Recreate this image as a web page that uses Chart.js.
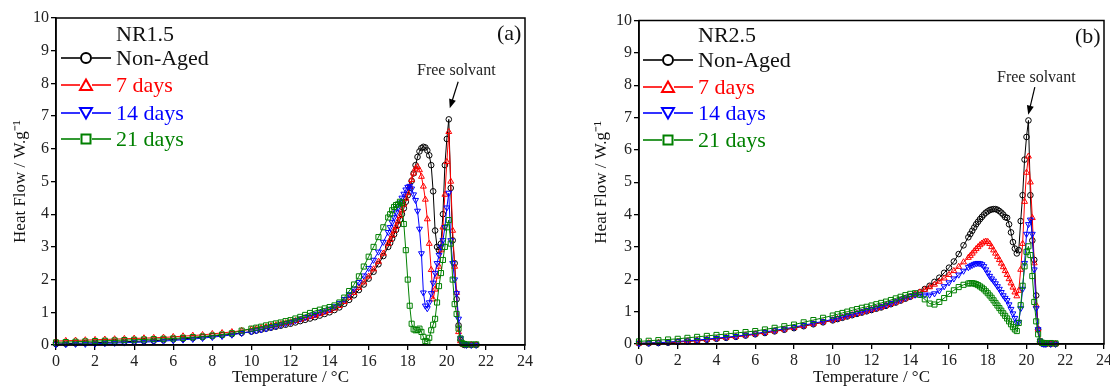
<!DOCTYPE html>
<html>
<head>
<meta charset="utf-8">
<script src="https://cdn.jsdelivr.net/npm/chart.js@4/dist/chart.umd.min.js"></script>
<style>
  body { margin: 0; background: #fff; width: 1110px; height: 388px; position: relative; overflow: hidden; font-family: "Liberation Serif", serif; }
  .panel { position: absolute; top: 0; height: 388px; }
  .lbl { position: absolute; white-space: nowrap; }
</style>
</head>
<body>
<div class="panel" style="left:0;width:555px"><canvas id="chartA" width="555" height="388"></canvas></div>
<div class="panel" style="left:560px;width:550px"><canvas id="chartB" width="550" height="388"></canvas></div>
<script>
// temperature grid (°C), shared by both panels
const temps = [0,0.5,1,1.5,2,2.5,3,3.5,4,4.5,5,5.5,6,6.5,7,7.5,8,8.5,9,9.5,10,
  10.25,10.5,10.75,11,11.25,11.5,11.75,12,12.25,12.5,12.75,13,13.25,13.5,13.75,14,14.25,14.5,14.75,15,15.25,15.5,15.75,16,16.25,16.5,16.75,
  17,17.1,17.2,17.3,17.4,17.5,17.6,17.7,17.8,17.9,18,18.1,18.2,18.3,18.4,18.5,18.6,18.7,18.8,18.9,19,19.1,19.2,19.3,19.4,19.5,19.6,19.7,19.8,19.9,20,20.1,20.2,20.3,20.4,20.5,20.6,20.7,20.8,20.9,21,
  21.25,21.5];

const seriesNames = ["Non-Aged", "7 days", "14 days", "21 days"];

// NR1.5 heat flow (W/g)
const nr15NonAged = [0.03,0.04,0.05,0.06,0.07,0.08,0.09,0.1,0.11,0.12,0.13,0.15,0.17,0.19,0.21,0.24,0.27,0.3,0.33,0.37,0.41,
  0.44,0.47,0.5,0.53,0.56,0.59,0.62,0.65,0.69,0.73,0.77,0.81,0.85,0.9,0.95,1.0,1.07,1.15,1.26,1.38,1.52,1.68,1.85,2.03,2.24,2.47,2.72,
  3.0,3.12,3.25,3.38,3.52,3.67,3.83,4.0,4.18,4.38,4.58,4.8,5.02,5.25,5.5,5.75,5.92,6.02,6.06,6.04,5.95,5.8,5.5,4.7,3.5,3.0,2.9,3.1,4.0,5.5,6.3,6.9,4.8,3.2,2.5,1.4,0.6,0.15,0.03,0,0,
  0,0];
const nr15Day7 = [0.12,0.13,0.14,0.15,0.16,0.17,0.18,0.19,0.2,0.21,0.22,0.23,0.25,0.27,0.29,0.31,0.34,0.37,0.4,0.44,0.48,
  0.5,0.52,0.55,0.58,0.61,0.64,0.67,0.7,0.74,0.78,0.82,0.86,0.9,0.95,1.0,1.05,1.12,1.2,1.32,1.45,1.6,1.75,1.92,2.1,2.32,2.55,2.8,
  3.1,3.22,3.36,3.5,3.62,3.78,3.95,4.12,4.3,4.48,4.65,4.85,5.05,5.25,5.4,5.45,5.35,5.15,4.85,4.45,3.85,3.1,2.3,1.4,1.7,2.1,2.4,2.9,3.6,4.6,5.6,6.52,5.0,3.5,2.4,1.6,0.4,0.12,0.03,0,0,
  0,0];
const nr15Day14 = [0.02,0.02,0.03,0.03,0.04,0.05,0.06,0.07,0.08,0.09,0.1,0.12,0.14,0.16,0.18,0.21,0.24,0.27,0.31,0.36,0.41,
  0.44,0.47,0.5,0.54,0.58,0.62,0.66,0.7,0.75,0.8,0.85,0.9,0.95,1.0,1.05,1.1,1.18,1.28,1.4,1.55,1.72,1.92,2.12,2.35,2.6,2.85,3.15,
  3.45,3.6,3.75,3.9,4.05,4.2,4.35,4.5,4.62,4.75,4.83,4.86,4.78,4.6,4.43,4.1,3.55,2.8,1.6,1.2,1.12,1.3,1.58,1.9,2.2,2.5,2.75,3.0,3.2,3.6,4.2,4.65,3.2,2.5,2.0,1.58,0.8,0.2,0.05,0.02,0,
  0,0];
const nr15Day21 = [0.08,0.09,0.1,0.11,0.12,0.13,0.14,0.15,0.16,0.17,0.18,0.19,0.2,0.22,0.24,0.26,0.29,0.32,0.36,0.44,0.5,
  0.53,0.56,0.6,0.63,0.66,0.69,0.73,0.76,0.81,0.86,0.92,0.98,1.04,1.08,1.12,1.16,1.21,1.3,1.45,1.65,1.85,2.1,2.4,2.7,3.0,3.3,3.6,
  3.9,4.0,4.12,4.22,4.28,4.3,4.38,4.35,3.7,2.9,2.0,1.2,0.65,0.48,0.45,0.46,0.5,0.4,0.25,0.12,0.1,0.22,0.45,0.62,0.8,1.3,1.8,2.2,2.6,3.0,3.6,3.82,3.1,2.0,1.25,0.95,0.5,0.2,0.05,0.03,0.02,
  0.02,0.02];

// NR2.5 heat flow (W/g)
const nr25NonAged = [0.02,0.02,0.03,0.04,0.06,0.08,0.1,0.13,0.16,0.19,0.22,0.26,0.3,0.34,0.39,0.44,0.49,0.55,0.61,0.67,0.73,
  0.77,0.81,0.85,0.89,0.93,0.97,1.01,1.05,1.09,1.13,1.18,1.23,1.28,1.34,1.4,1.46,1.53,1.6,1.7,1.8,1.92,2.05,2.2,2.36,2.55,2.78,3.05,
  3.3,3.4,3.5,3.6,3.7,3.78,3.86,3.93,4.0,4.06,4.1,4.14,4.16,4.17,4.17,4.15,4.11,4.06,4.0,3.92,3.9,3.7,3.45,3.15,2.95,2.8,2.9,3.8,4.6,5.7,6.4,6.91,4.6,3.2,2.6,1.5,0.45,0.08,0.02,0,0,
  0,0];
const nr25Day7 = [0.02,0.03,0.04,0.05,0.07,0.09,0.11,0.14,0.17,0.2,0.23,0.27,0.31,0.35,0.4,0.45,0.5,0.56,0.62,0.68,0.74,
  0.78,0.82,0.86,0.9,0.94,0.98,1.02,1.06,1.1,1.14,1.19,1.24,1.29,1.35,1.41,1.47,1.53,1.6,1.68,1.76,1.84,1.93,2.03,2.14,2.26,2.39,2.53,
  2.67,2.73,2.8,2.87,2.94,3.0,3.06,3.11,3.15,3.17,3.16,3.1,3.0,2.9,2.8,2.7,2.6,2.49,2.38,2.26,2.14,2.01,1.88,1.75,1.6,1.48,1.65,2.3,3.1,4.4,5.3,5.8,5.0,3.9,2.5,1.2,0.45,0.1,0.02,0,0,
  0,0];
const nr25Day14 = [0.02,0.03,0.04,0.06,0.08,0.1,0.12,0.15,0.18,0.21,0.24,0.28,0.32,0.37,0.42,0.47,0.52,0.58,0.64,0.7,0.76,
  0.8,0.84,0.88,0.92,0.96,1.0,1.04,1.08,1.12,1.16,1.21,1.26,1.31,1.37,1.43,1.48,1.52,1.53,1.52,1.52,1.56,1.65,1.78,1.9,2.02,2.14,2.26,
  2.37,2.41,2.44,2.47,2.49,2.5,2.49,2.46,2.4,2.3,2.2,2.1,2.02,1.95,1.87,1.78,1.7,1.6,1.5,1.42,1.35,1.22,1.08,0.94,0.8,0.66,0.68,1.1,1.7,2.5,3.4,3.7,3.84,3.4,2.3,1.1,0.45,0.1,0.01,0,0,
  0,0];
const nr25Day21 = [0.08,0.1,0.12,0.14,0.16,0.19,0.22,0.25,0.28,0.31,0.34,0.37,0.4,0.45,0.5,0.55,0.6,0.67,0.74,0.81,0.88,
  0.92,0.96,1.0,1.04,1.08,1.12,1.15,1.19,1.23,1.27,1.31,1.36,1.41,1.46,1.51,1.55,1.57,1.52,1.38,1.25,1.22,1.3,1.42,1.55,1.66,1.76,1.83,
  1.87,1.88,1.88,1.87,1.85,1.82,1.78,1.74,1.69,1.63,1.57,1.5,1.43,1.35,1.27,1.19,1.11,1.03,0.95,0.87,0.79,0.7,0.61,0.52,0.45,0.4,0.65,1.2,1.8,2.4,2.85,3.02,2.75,2.1,1.3,0.7,0.3,0.08,0.04,0.03,0.03,
  0.03,0.02];

const colors = ["#000000", "#ff0000", "#0000ff", "#008000"];
const styles = ["circle", "triangle", "triangle", "rect"];
const rotations = [0, 0, 180, 0];
const radii = [2.8, 3.4, 3.4, 3.6];

const SERIF = "'Liberation Serif', 'Times New Roman', serif";

function makeDatasets(seriesList) {
  return seriesList.map((vals, i) => ({
    label: seriesNames[i],
    data: temps.map((t, k) => ({ x: t, y: vals[k] })),
    borderColor: colors[i],
    backgroundColor: "rgba(0,0,0,0)",
    borderWidth: 1,
    pointStyle: styles[i],
    pointRotation: rotations[i],
    pointRadius: radii[i],
    pointBorderWidth: 1,
    pointBorderColor: colors[i],
    pointBackgroundColor: "rgba(0,0,0,0)",
    tension: 0,
    clip: false,
    order: 3 - i
  }));
}

// box around the plot and the "Free solvant" arrow
const framePlugin = {
  id: "frame",
  afterDraw(chart, args, opts) {
    const { ctx, chartArea: a, scales: { x, y } } = chart;
    ctx.save();
    ctx.strokeStyle = "#000";
    ctx.lineWidth = 1.5;
    ctx.strokeRect(a.left, a.top, a.right - a.left, a.bottom - a.top);
    const [t0, v0, t1, v1] = opts.arrow;
    const x0 = x.getPixelForValue(t0), y0 = y.getPixelForValue(v0);
    const x1 = x.getPixelForValue(t1), y1 = y.getPixelForValue(v1);
    const ang = Math.atan2(y1 - y0, x1 - x0);
    ctx.lineWidth = 1.2;
    ctx.beginPath();
    ctx.moveTo(x0, y0);
    ctx.lineTo(x1 - 5 * Math.cos(ang), y1 - 5 * Math.sin(ang));
    ctx.stroke();
    ctx.fillStyle = "#000";
    ctx.beginPath();
    ctx.moveTo(x1, y1);
    ctx.lineTo(x1 - 9 * Math.cos(ang) + 3.5 * Math.sin(ang), y1 - 9 * Math.sin(ang) - 3.5 * Math.cos(ang));
    ctx.lineTo(x1 - 9 * Math.cos(ang) - 3.5 * Math.sin(ang), y1 - 9 * Math.sin(ang) + 3.5 * Math.cos(ang));
    ctx.closePath();
    ctx.fill();
    ctx.restore();
  }
};

function panelOptions(pad, yWidth, xHeight, yTitlePad, arrow) {
  return {
    responsive: false,
    animation: false,
    events: [],
    layout: { padding: pad },
    plugins: { legend: { display: false }, tooltip: { enabled: false }, frame: { arrow: arrow } },
    scales: {
      x: {
        type: "linear", min: 0, max: 24,
        ticks: { stepSize: 2, color: "#222", padding: 2, maxRotation: 0, font: { family: SERIF, size: 16 } },
        grid: { drawOnChartArea: false, color: "#000", lineWidth: 1.3, tickLength: 5 },
        border: { color: "#000", width: 1.5 },
        title: { display: true, text: "Temperature / °C", color: "#111", font: { family: SERIF, size: 17 }, padding: { top: 0, bottom: 0 } },
        afterFit(s) { s.height = xHeight; s.paddingLeft = 0; s.paddingRight = 0; }
      },
      y: {
        min: 0, max: 10,
        ticks: { stepSize: 1, color: "#222", padding: 2, font: { family: SERIF, size: 16 } },
        grid: { drawOnChartArea: false, color: "#000", lineWidth: 1.3, tickLength: 5 },
        border: { color: "#000", width: 1.5 },
        title: { display: true, text: "Heat Flow / W.g⁻¹", color: "#111", font: { family: SERIF, size: 17 }, padding: { top: yTitlePad, bottom: 0 } },
        afterFit(s) { s.width = yWidth; s.paddingTop = 0; s.paddingBottom = 0; }
      }
    }
  };
}

new Chart("chartA", {
  type: "line",
  data: { datasets: makeDatasets([nr15NonAged, nr15Day7, nr15Day14, nr15Day21]) },
  options: panelOptions({ left: 0, top: 18, right: 30, bottom: 0 }, 56, 43, 10, [20.58, 8.05, 20.15, 7.24]),
  plugins: [framePlugin]
});

new Chart("chartB", {
  type: "line",
  data: { datasets: makeDatasets([nr25NonAged, nr25Day7, nr25Day14, nr25Day21]) },
  options: panelOptions({ left: 0, top: 20.5, right: 6, bottom: 0 }, 79, 44, 31, [20.43, 7.94, 20.09, 7.09]),
  plugins: [framePlugin]
});

// legends and annotations as HTML text
function addText(text, left, capCenter, size, color) {
  const d = document.createElement("div");
  d.className = "lbl";
  d.textContent = text;
  d.style.left = left + "px";
  d.style.top = (capCenter - size * 0.5) + "px";
  d.style.fontSize = size + "px";
  d.style.lineHeight = size + "px";
  d.style.color = color;
  document.body.appendChild(d);
}

function markerSvg(i) {
  const c = colors[i];
  let shape;
  if (styles[i] === "circle") shape = `<circle cx="25" cy="10" r="5" fill="none" stroke="${c}" stroke-width="2"/>`;
  else if (styles[i] === "rect") shape = `<rect x="20.5" y="5.5" width="9" height="9" fill="none" stroke="${c}" stroke-width="2"/>`;
  else if (rotations[i] === 180) shape = `<polygon points="19,5 31,5 25,15.5" fill="none" stroke="${c}" stroke-width="2"/>`;
  else shape = `<polygon points="19,15 31,15 25,4.5" fill="none" stroke="${c}" stroke-width="2"/>`;
  return `<svg width="50" height="20" xmlns="http://www.w3.org/2000/svg">` +
    `<line x1="0" y1="10" x2="19" y2="10" stroke="${c}" stroke-width="1.6"/>` +
    `<line x1="31" y1="10" x2="50" y2="10" stroke="${c}" stroke-width="1.6"/>` + shape + `</svg>`;
}

function addLegend(title, lineLeft, textLeft, titleCenter, itemCenters) {
  addText(title, textLeft, titleCenter, 22, "#111");
  itemCenters.forEach((cy, i) => {
    const s = document.createElement("div");
    s.className = "lbl";
    s.style.left = lineLeft + "px";
    s.style.top = (cy - 10) + "px";
    s.innerHTML = markerSvg(i);
    document.body.appendChild(s);
    addText(seriesNames[i], textLeft, cy, 22, colors[i] === "#000000" ? "#111" : colors[i]);
  });
}

addLegend("NR1.5", 61, 116, 33.5, [57.8, 85, 112.7, 139]);
addLegend("NR2.5", 643, 698, 35, [60, 86.7, 113.3, 140]);
addText("(a)", 497, 32.5, 22, "#111");
addText("(b)", 1075, 35.5, 22, "#111");
addText("Free solvant", 417, 70, 16, "#222");
addText("Free solvant", 997, 76.7, 16, "#222");
</script>
</body>
</html>
